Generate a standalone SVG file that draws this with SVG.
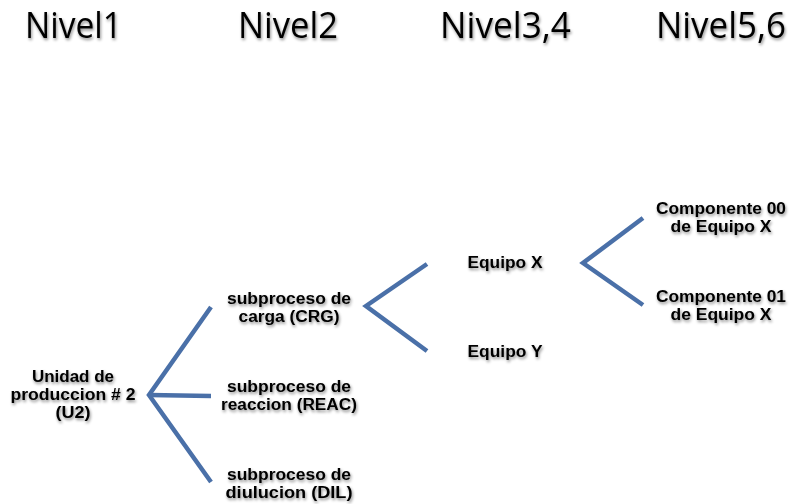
<svg xmlns="http://www.w3.org/2000/svg" width="792" height="504" viewBox="0 0 792 504">
<defs>
<filter id="sh" x="-10%" y="-30%" width="130%" height="170%">
<feDropShadow dx="1" dy="2" stdDeviation="1.4" flood-color="#000" flood-opacity="0.45"/>
</filter>
<style>
.hdr{font-family:"Open Sans","Liberation Sans",sans-serif;font-size:36px;fill:#000;filter:url(#sh)}
.lbl{font-family:"Liberation Sans",Arial,sans-serif;font-size:16px;font-weight:bold;fill:#000;text-anchor:middle;filter:url(#sh)}
.con{fill:none;stroke:#4a70a8;stroke-width:4.5;stroke-linecap:butt;stroke-linejoin:miter}
</style>
</defs>
<rect width="792" height="504" fill="#fff"/>
<g id="headers">
<text class="hdr" x="25" y="38" textLength="97" lengthAdjust="spacingAndGlyphs">Nivel1</text>
<text class="hdr" x="238" y="38" textLength="100" lengthAdjust="spacingAndGlyphs">Nivel2</text>
<text class="hdr" x="440" y="38" textLength="131" lengthAdjust="spacingAndGlyphs">Nivel3,4</text>
<text class="hdr" x="656" y="38" textLength="130" lengthAdjust="spacingAndGlyphs">Nivel5,6</text>
</g>
<g id="connectors">
<path class="con" d="M211,307 L149,395 L211,482"/>
<path class="con" d="M149,395 L211,396"/>
<path class="con" d="M427,264 L366,306 L427,351"/>
<path class="con" d="M643,218 L583,263 L643,305"/>
</g>
<g id="n_u2">
<text class="lbl" x="73" y="382" textLength="82" lengthAdjust="spacingAndGlyphs">Unidad de</text>
<text class="lbl" x="73" y="400" textLength="125" lengthAdjust="spacingAndGlyphs">produccion # 2</text>
<text class="lbl" x="73" y="418" textLength="35" lengthAdjust="spacingAndGlyphs">(U2)</text>
</g>
<g id="n_crg">
<text class="lbl" x="289" y="304" textLength="124" lengthAdjust="spacingAndGlyphs">subproceso de</text>
<text class="lbl" x="289" y="322" textLength="101" lengthAdjust="spacingAndGlyphs">carga (CRG)</text>
</g>
<g id="n_reac">
<text class="lbl" x="289" y="392" textLength="124" lengthAdjust="spacingAndGlyphs">subproceso de</text>
<text class="lbl" x="289" y="410" textLength="136" lengthAdjust="spacingAndGlyphs">reaccion (REAC)</text>
</g>
<g id="n_dil">
<text class="lbl" x="289" y="480" textLength="124" lengthAdjust="spacingAndGlyphs">subproceso de</text>
<text class="lbl" x="289" y="498" textLength="127" lengthAdjust="spacingAndGlyphs">diulucion (DIL)</text>
</g>
<g id="n_eqx">
<text class="lbl" x="505" y="268" textLength="75" lengthAdjust="spacingAndGlyphs">Equipo X</text>
</g>
<g id="n_eqy">
<text class="lbl" x="505" y="357" textLength="75" lengthAdjust="spacingAndGlyphs">Equipo Y</text>
</g>
<g id="n_c00">
<text class="lbl" x="721" y="214" textLength="130" lengthAdjust="spacingAndGlyphs">Componente 00</text>
<text class="lbl" x="721" y="232" textLength="101" lengthAdjust="spacingAndGlyphs">de Equipo X</text>
</g>
<g id="n_c01">
<text class="lbl" x="721" y="302" textLength="130" lengthAdjust="spacingAndGlyphs">Componente 01</text>
<text class="lbl" x="721" y="320" textLength="101" lengthAdjust="spacingAndGlyphs">de Equipo X</text>
</g>
</svg>
